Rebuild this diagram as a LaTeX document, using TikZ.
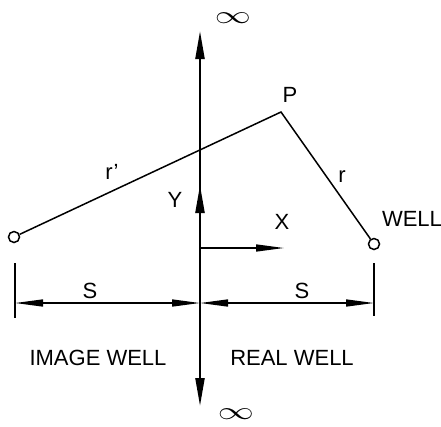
\documentclass[tikz,border=0pt]{standalone}
\usepackage{fontspec}
\setmainfont{Liberation Sans}
\usetikzlibrary{arrows.meta}
\tikzset{
  ln/.style={line width=1.5pt, black},
  axis/.style={line width=2.2pt, black},
  tri/.tip={Triangle[length=28pt,width=9pt]},
  dtri/.tip={Triangle[length=28pt,width=7pt]},
  lbl/.style={font=\fontsize{22}{22}\selectfont, inner sep=0pt},
  inf/.style={font=\fontsize{40}{40}\selectfont, inner sep=0pt, xscale=1.45},
  well/.style={circle, draw, line width=1.5pt, minimum size=11pt, inner sep=0pt, fill=white},
}
\begin{document}
\begin{tikzpicture}[x=1pt,y=-1pt]
\useasboundingbox (0,0) rectangle (441,426);
% coordinates
\coordinate (top) at (200,31);
\coordinate (bot) at (200,406);
\coordinate (O) at (200,303);
\coordinate (C) at (200,248);
\coordinate (yt) at (200,185);
\coordinate (xt) at (284,248);
\coordinate (L) at (15,303);
\coordinate (R) at (374,303);
\coordinate (Lt) at (15,263);
\coordinate (Lb) at (15,318);
\coordinate (Rt) at (374,263);
\coordinate (Rb) at (374,316);
\coordinate (P) at (281,112);
% wells
\node[well] (iw) at (14,237) {};
\node[well] (rw) at (374,244) {};
% axes
\draw[axis,-{tri}] (O) -- (top);
\draw[axis,-{tri}] (O) -- (bot);
\draw[axis,-{tri}] (C) -- (yt);
\draw[ln,-{dtri}] (C) -- (xt);
% distance lines
\draw[ln] (iw) -- (P) -- (rw);
% dimension
\draw[ln] (Lt) -- (Lb);
\draw[ln] (Rt) -- (Rb);
\draw[ln,{dtri}-{dtri}] (L) -- (O);
\draw[ln,{dtri}-{dtri}] (O) -- (R);
% labels
\node[inf] (i1) at (233,18) {$\infty$};
\node[inf] (i2) at (236,414) {$\infty$};
\node[lbl] (p) at (290,95) {P};
\node[lbl] (r) at (342,177) {r};
\node[lbl] (rp) at (112,172) {r'};
\node[lbl] (y) at (175,200) {Y};
\node[lbl] (x) at (282,222) {X};
\node[lbl] (wl) at (412,219) {WELL};
\node[lbl] (s1) at (90,291) {S};
\node[lbl] (s2) at (302,291) {S};
\node[lbl] (iwl) at (98,358) {IMAGE WELL};
\node[lbl] (rwl) at (292,358) {REAL WELL};
\end{tikzpicture}
\end{document}
